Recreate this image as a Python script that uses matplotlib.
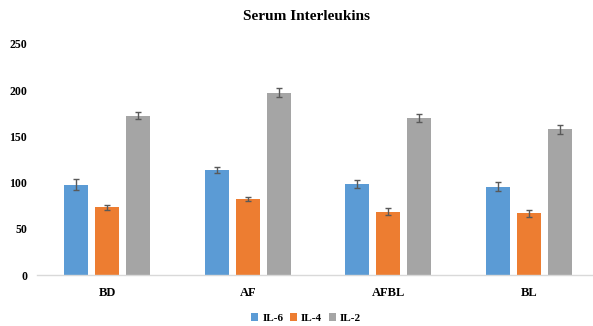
import matplotlib
matplotlib.use("Agg")
import matplotlib.pyplot as plt
import numpy as np

categories = ["BD", "AF", "AFBL", "BL"]
series = ["IL-6", "IL-4", "IL-2"]
il6 = [97.5, 113.8, 98.6, 95.7]
il4 = [73.3, 82.3, 68.6, 66.8]
il2 = [172.6, 197.5, 169.8, 157.8]
il6_err = [6.0, 3.0, 4.7, 4.7]
il4_err = [2.5, 2.5, 4.0, 3.6]
il2_err = [3.5, 5.0, 4.0, 4.9]
yticks = [0, 50, 100, 150, 200, 250]

colors = ["#5B9BD5", "#ED7D31", "#A5A5A5"]

plt.rcParams['font.family'] = ['Liberation Serif', 'DejaVu Serif']

fig = plt.figure(figsize=(5.93, 3.26), dpi=100)
ax = fig.add_axes([37/593, (326-275)/326, (599-37)/593, (275-44)/326])

x = np.arange(len(categories))
width = 0.17
step = 0.222
for i, (vals, errs, name) in enumerate(zip([il6, il4, il2], [il6_err, il4_err, il2_err], series)):
    ax.bar(x + (i - 1) * step, vals, width, color=colors[i], label=name, zorder=2)
    ax.errorbar(x + (i - 1) * step, vals, yerr=errs, fmt='none', ecolor='#595959',
                elinewidth=1.0, capsize=2.5, capthick=1.0, zorder=3)

ax.set_xlim(-0.5, len(categories) - 0.5)
ax.set_ylim(0, 250)
ax.set_yticks(yticks)
ax.set_yticklabels([str(t) for t in yticks], fontweight='bold', fontsize=8.5)
ax.set_xticks(x)
ax.set_xticklabels(categories, fontweight='bold', fontsize=9)
for s in ['top', 'right', 'left']:
    ax.spines[s].set_visible(False)
ax.spines['bottom'].set_color('#D9D9D9')
ax.spines['bottom'].set_linewidth(1.0)
ax.tick_params(axis='both', length=0)
ax.tick_params(axis='y', pad=7)
ax.tick_params(axis='x', pad=9)

fig.text(306/593, 1 - 17/326, "Serum Interleukins", ha='center', va='center',
         fontweight='bold', fontsize=11)

handles, labels = ax.get_legend_handles_labels()
fig.legend(handles, labels, loc='center', bbox_to_anchor=(306/593, 1 - 318/326),
           ncol=3, frameon=False, prop={'weight': 'bold', 'size': 8},
           handlelength=0.63, handleheight=0.63, handletextpad=0.35, columnspacing=0.6)

fig.savefig("out.png", dpi=100)
